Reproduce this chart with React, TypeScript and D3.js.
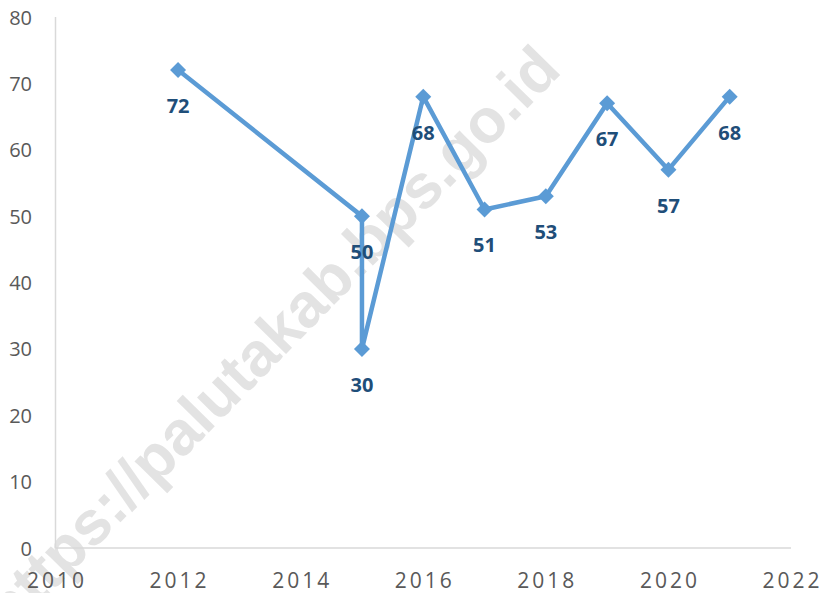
import React from "react";
import * as d3 from "d3";

const years = [2012, 2015, 2015, 2016, 2017, 2018, 2019, 2020, 2021];
const values = [72, 50, 30, 68, 51, 53, 67, 57, 68];
const xTicks = [2010, 2012, 2014, 2016, 2018, 2020, 2022];
const yTicks = [0, 10, 20, 30, 40, 50, 60, 70, 80];
const watermark = "https://palutakab.bps.go.id";

const W = 828;
const H = 593;

export default function App() {
  const x = d3.scaleLinear().domain([2010, 2022]).range([55.5, 791]);
  const y = d3.scaleLinear().domain([0, 80]).range([548, 17]);
  const pts = years.map((yr, i) => [x(yr), y(values[i])] as [number, number]);
  const line = d3.line()(pts) || "";
  const font = "'Open Sans', 'Liberation Sans', sans-serif";
  const r = 8;

  return (
    <svg
      width={W}
      height={H}
      style={{ position: "absolute", left: 0, top: 0, background: "#fff" }}
    >
      <rect x={0} y={0} width={W} height={H} fill="#fff" />
      {/* watermark */}
      <text
        x={0}
        y={0}
        transform="translate(563,72) rotate(-45.5)"
        textAnchor="end"
        fontFamily="'Liberation Sans', Arial, sans-serif"
        fontWeight="bold"
        fontSize={62}
        fill="#e3e3e3"
      >
        {watermark}
      </text>
      {/* axes */}
      <line x1={x(2010)} x2={x(2010)} y1={y(80)} y2={y(0)} stroke="#d9d9d9" strokeWidth={1.5} />
      <line x1={x(2010)} x2={x(2022)} y1={y(0)} y2={y(0)} stroke="#d9d9d9" strokeWidth={1.5} />
      {yTicks.map((t) => (
        <text
          key={"y" + t}
          x={32}
          y={y(t)}
          textAnchor="end"
          dominantBaseline="central"
          fontFamily={font}
          fontSize={20}
          fill="#595959"
        >
          {t}
        </text>
      ))}
      {xTicks.map((t) => (
        <text
          key={"x" + t}
          x={x(t) + 1.5}
          y={588}
          textAnchor="middle"
          fontFamily={font}
          fontSize={21}
          letterSpacing={3}
          fill="#595959"
        >
          {t}
        </text>
      ))}
      <path d={line} fill="none" stroke="#5B9BD5" strokeWidth={4.5} strokeLinejoin="round" />
      {pts.map(([px, py], i) => (
        <path
          key={"m" + i}
          d={`M${px},${py - r}L${px + r},${py}L${px},${py + r}L${px - r},${py}Z`}
          fill="#5B9BD5"
        />
      ))}
      {pts.map(([px, py], i) => (
        <text
          key={"l" + i}
          x={px}
          y={py + 43}
          textAnchor="middle"
          fontFamily={font}
          fontWeight="bold"
          fontSize={20}
          fill="#1F4E79"
        >
          {values[i]}
        </text>
      ))}
    </svg>
  );
}
